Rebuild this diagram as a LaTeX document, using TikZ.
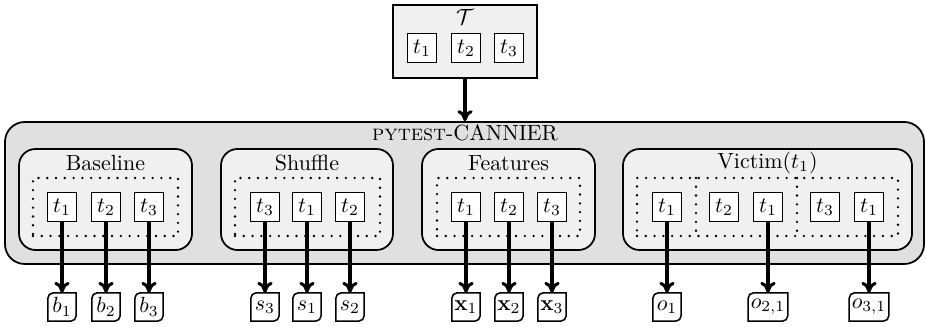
\documentclass[tikz,border=0pt]{standalone}
\usepackage{amsmath}
\usepackage{amsfonts}
\usepackage{tikz}
\usetikzlibrary{fit,arrows.meta}

\begin{document}
\begin{tikzpicture}[x=0.016cm, y=-0.016cm,
    outer/.style={draw, line width=0.8pt, fill=black!12, rounded corners=9pt, inner sep=0pt},
    group/.style={draw, line width=0.8pt, fill=black!6, rounded corners=7.5pt, inner sep=0pt},
    runs/.style={draw, line width=1.2pt, dash pattern=on 0pt off 4pt, line cap=round, inner sep=0pt},
    tbox/.style={draw, fill=white, line width=0.7pt, minimum size=0.46cm, inner sep=0pt},
    outbox/.style={minimum width=0.44cm, minimum height=0.44cm, inner sep=1pt},
    flow/.style={-{Computer Modern Rightarrow[length=5pt, width=7pt]}, line width=1.4pt}]
      \useasboundingbox (0,0) rectangle (926,327);
      % test suite
      \node[group, line width=0.7pt, rounded corners=0pt, fit={(393,5) (537,78)}] (suite) {};
      \node (suitename) at (465,17) {$\mathcal{T}$};
      \node[tbox] (s1) at (422,48) {$t_1$};
      \node[tbox] (s2) at (466,48) {$t_2$};
      \node[tbox] (s3) at (509,48) {$t_3$};
      % the tool and its modes
      \node[outer, fit={(5,122) (924,264)}] (cannier) {};
      \node (toolname) at (465,133) {\textsc{pytest}-CANNIER};
      \draw[flow] (suite.south) -- (suite.south |- cannier.north);
      \foreach \l/\r/\name/\title in {19/192/base/Baseline, 221/393/shuf/Shuffle,
          422/595/feat/Features, 623/912/vict/Victim$(t_1)$}
      {
        \node[group, fit={(\l,149) (\r,250)}] (\name) {};
        \node (\name title) at ({(\l+\r)/2},163) {\title};
      }
      \foreach \l/\r/\name in {33/178/base, 235/380/shuf, 437/580/feat, 637/898/vict}
        \node[runs, fit={(\l,178) (\r,236)}] (\name runs) {};
      \draw[runs] (696,178) -- (696,236);
      \draw[runs] (797,178) -- (797,236);
      % runs and their results
      \foreach \x/\t/\o [count=\i] in {62/t_1/b_1, 106/t_2/b_2, 149/t_3/b_3,
          265/t_3/s_3, 307/t_1/s_1, 350/t_2/s_2,
          466/t_1/\mathbf{x}_1, 509/t_2/\mathbf{x}_2, 552/t_3/\mathbf{x}_3,
          667/t_1/o_1, 768/t_1/o_{2,1}, 869/t_1/o_{3,1}}
      {
        \node[tbox] (t\i) at (\x,207) {$\t$};
        \node[outbox] (o\i) at (\x,307) {$\o$};
        \draw[line width=0.7pt] (o\i.west) [rounded corners=2.5pt] |- (o\i.north)
          [sharp corners] -| (o\i.east) [rounded corners=2.5pt] |- (o\i.south)
          [sharp corners] -| cycle;
        \draw[flow] (t\i) -- (o\i);
      }
      \node[tbox] (v2) at (724,207) {$t_2$};
      \node[tbox] (v3) at (825,207) {$t_3$};
    \end{tikzpicture}
\end{document}
